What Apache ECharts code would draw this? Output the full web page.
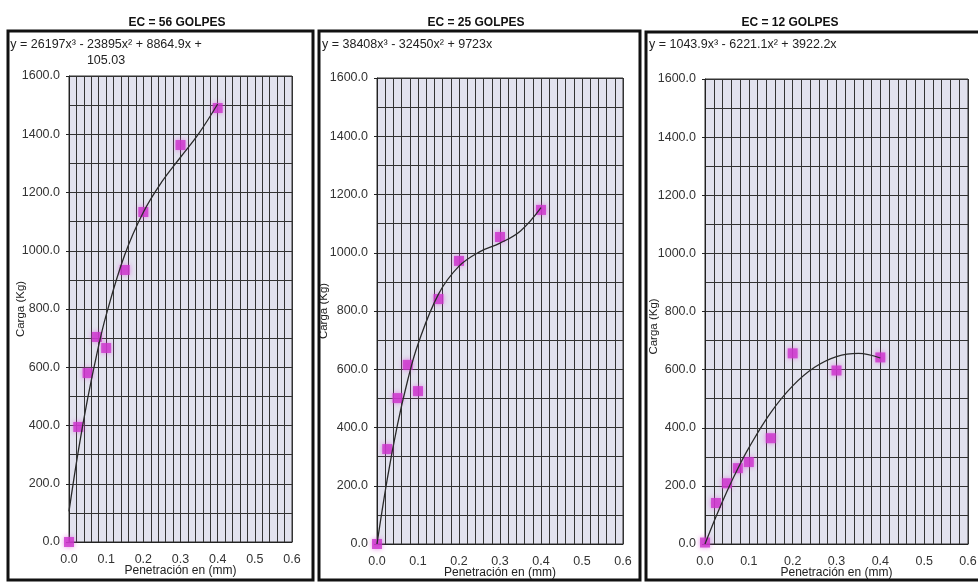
<!DOCTYPE html>
<html>
<head>
<meta charset="utf-8">
<script src="https://cdn.jsdelivr.net/npm/echarts@6/dist/echarts.min.js"></script>
<style>
html,body{margin:0;padding:0;background:#fff;}
#chart{width:978px;height:583px;}
</style>
</head>
<body>
<div id="chart"></div>
<script>
// ---- data ----
const titles = ['EC = 56 GOLPES', 'EC = 25 GOLPES', 'EC = 12 GOLPES'];
const equations = [
  'y = 26197x\u00B3 - 23895x\u00B2 + 8864.9x +\n105.03',
  'y = 38408x\u00B3 - 32450x\u00B2 + 9723x',
  'y = 1043.9x\u00B3 - 6221.1x\u00B2 + 3922.2x'
];
const penetration = [0, 0.025, 0.05, 0.075, 0.1, 0.15, 0.2, 0.3, 0.4];
const load56 = [0, 395, 580, 704, 666, 934, 1133, 1363, 1490];
const load25 = [0, 326, 501, 615, 525, 841, 972, 1054, 1147];
const load12 = [5, 141, 209, 261, 282, 364, 656, 597, 642];
const trendX = [0, 0.025, 0.05, 0.075, 0.1, 0.15, 0.2, 0.25, 0.3, 0.35, 0.4];
const trend56 = [105, 312, 491, 646, 779, 986, 1132, 1237, 1321, 1404, 1504];
const trend25 = [0, 223, 410, 563, 686, 858, 954, 1003, 1033, 1075, 1155];
const trend12 = [0, 94, 181, 260, 331, 452, 544, 608, 645, 656, 640];
const xTickLabels = ['0.0', '0.1', '0.2', '0.3', '0.4', '0.5', '0.6'];
const yTickLabels = ['0.0', '200.0', '400.0', '600.0', '800.0', '1000.0', '1200.0', '1400.0', '1600.0'];
const xName = 'Penetración en (mm)';
const yName = 'Carga (Kg)';

const loads = [load56, load25, load12];
const trends = [trend56, trend25, trend12];

// ---- layout ----
const grids = [
  {left: 69, top: 76, width: 223, height: 466},
  {left: 377, top: 78, width: 246, height: 466},
  {left: 705, top: 79, width: 263, height: 465}
];
const titleX = [172, 471, 785];
const eqPos = [{x: 106, y: 37, align: 'center'}, {x: 322, y: 37, align: 'left'}, {x: 649, y: 37, align: 'left'}];
const frames = [
  {x: 8, y: 31, width: 305, height: 549},
  {x: 319, y: 31, width: 321, height: 549},
  {x: 646, y: 32, width: 350, height: 548}
];
const yNameGap = [42, 47, 45];
const yNameShift = [0, 0, 30];

const FONT = "'Liberation Sans', Arial, sans-serif";
const gridLine = {color: '#333', width: 1};

const option = {
  backgroundColor: '#fff',
  animation: false,
  title: titles.map((t, i) => ({
    text: t, left: titleX[i], top: 12, textAlign: 'center',
    textStyle: {fontFamily: FONT, fontWeight: 'bold', fontSize: 12, color: '#111'}
  })),
  grid: grids.map(g => Object.assign({show: true, outerBoundsMode: 'none', containLabel: false,
    backgroundColor: '#e2e2ee', borderColor: '#333', borderWidth: 1}, g)),
  xAxis: grids.map((g, i) => ({
    type: 'value', gridIndex: i, min: 0, max: 0.6, interval: 0.1,
    name: xName, nameLocation: 'middle', nameGap: 23, nameMoveOverlap: false,
    nameTextStyle: {fontFamily: FONT, fontSize: 12, color: '#222'},
    axisLine: {show: true, onZero: false, lineStyle: {color: '#222', width: 1}},
    axisTick: {show: false},
    axisLabel: {margin: 11, fontFamily: FONT, fontSize: 12.5, color: '#333',
      formatter: v => xTickLabels[Math.round(v * 10)]},
    splitLine: {show: true, lineStyle: gridLine},
    minorTick: {show: false, splitNumber: 5},
    minorSplitLine: {show: true, lineStyle: gridLine}
  })),
  yAxis: grids.map((g, i) => ({
    type: 'value', gridIndex: i, min: 0, max: 1600, interval: 200,
    name: yName, nameLocation: 'middle', nameGap: yNameGap[i], nameRotate: 90, nameMoveOverlap: false,
    nameTextStyle: {fontFamily: FONT, fontSize: 11.5, color: '#222', padding: [0, yNameShift[i], 0, 0]},
    axisLine: {show: true, lineStyle: {color: '#222', width: 1}},
    axisTick: {show: true, length: 3, lineStyle: {color: '#222'}},
    axisLabel: {margin: 9, fontFamily: FONT, fontSize: 12.5, color: '#333',
      formatter: v => yTickLabels[Math.round(v / 200)]},
    splitLine: {show: true, lineStyle: gridLine},
    minorTick: {show: false, splitNumber: 2},
    minorSplitLine: {show: true, lineStyle: gridLine}
  })),
  series: [].concat(
    loads.map((arr, i) => ({
      type: 'scatter', xAxisIndex: i, yAxisIndex: i, z: 3,
      symbol: 'rect', symbolSize: 10,
      itemStyle: {color: '#cc33cc', shadowBlur: 5, shadowColor: 'rgba(220,80,220,0.8)'},
      data: penetration.map((x, k) => [x, arr[k]])
    })),
    trends.map((arr, i) => ({
      type: 'line', xAxisIndex: i, yAxisIndex: i, z: 4,
      smooth: 0.4, symbol: 'none',
      lineStyle: {color: '#2a2a2a', width: 1.3},
      data: trendX.map((x, k) => [x, arr[k]])
    }))
  ),
  graphic: [].concat(
    frames.map(f => ({
      type: 'rect', shape: f, z: 10, silent: true,
      style: {fill: 'none', stroke: '#111', lineWidth: 3}
    })),
    equations.map((t, i) => ({
      type: 'text', x: eqPos[i].x, y: eqPos[i].y, z: 10,
      style: {text: t, fontFamily: FONT, fontSize: 12.5, fill: '#222', align: eqPos[i].align, lineHeight: 16}
    }))
  )
};

const chart = echarts.init(document.getElementById('chart'), null, {renderer: 'canvas'});
chart.setOption(option);
</script>
</body>
</html>
